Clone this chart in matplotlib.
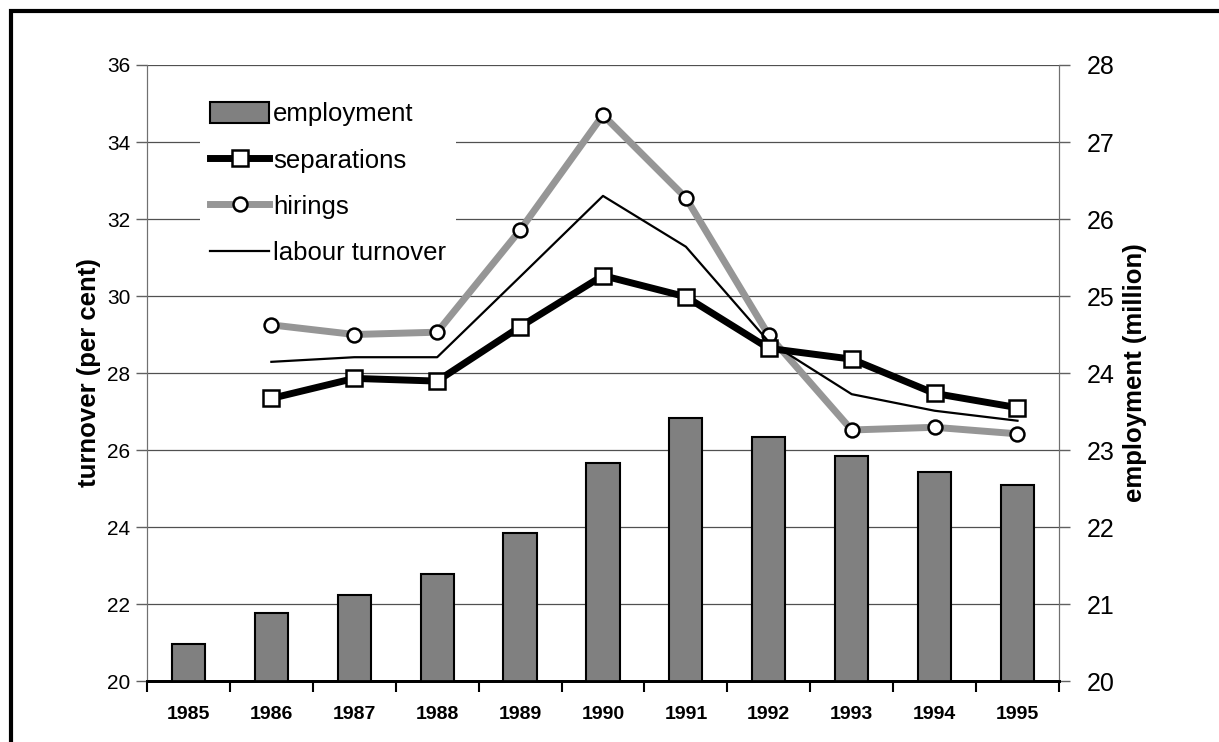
import numpy as np
import matplotlib
matplotlib.use("Agg")
import matplotlib.pyplot as plt
from matplotlib.patches import Patch, Rectangle
from matplotlib.lines import Line2D

plt.rcParams['font.family'] = ['Liberation Sans', 'DejaVu Sans']

# data
years = ['1985', '1986', '1987', '1988', '1989', '1990',
         '1991', '1992', '1993', '1994', '1995']
employment = [20.48, 20.88, 21.12, 21.39, 21.92, 22.83,
              23.42, 23.17, 22.92, 22.71, 22.55]
sep_years = years[1:]
separations = [27.34, 27.86, 27.79, 29.20, 30.53, 29.98, 28.64, 28.36, 27.47, 27.10]
hirings = [29.25, 29.00, 29.06, 31.71, 34.70, 32.55, 28.98, 26.52, 26.59, 26.42]
turnover = [28.29, 28.41, 28.41, 30.50, 32.60, 31.28, 28.81, 27.45, 27.02, 26.76]

fig = plt.figure(figsize=(12.19, 7.42), dpi=100)
ax = fig.add_axes([0.1206, 0.0822, 0.7481, 0.8302])
ax2 = ax.twinx()

# bars on the right axis, kept underneath the lines
ax2.set_zorder(ax.get_zorder() - 1)
ax.patch.set_visible(False)

x = np.arange(len(years))
xs = np.arange(1, len(years))

ax2.bar(x, employment, width=0.4, color='#808080', edgecolor='black',
        linewidth=1.5, zorder=3)
ax2.set_ylim(20, 28)
ax2.set_yticks(np.arange(20, 29, 1))
ax2.yaxis.grid(True, color='#505050', linewidth=0.9, zorder=0)
ax2.set_axisbelow(True)

ax.plot(xs, hirings, color='#969696', linewidth=5, marker='o', markersize=10,
        markerfacecolor='white', markeredgecolor='black', markeredgewidth=1.8,
        solid_joinstyle='miter', zorder=4)
ax.plot(xs, turnover, color='black', linewidth=1.6, zorder=5)
ax.plot(xs, separations, color='black', linewidth=5, marker='s', markersize=11,
        markerfacecolor='white', markeredgecolor='black', markeredgewidth=1.8,
        solid_joinstyle='miter', zorder=6)

ax.set_xlim(-0.5, len(years) - 0.5)
ax.set_ylim(20, 36)
ax.set_yticks(np.arange(20, 37, 2))

# category boundaries as ticks, labels centred
ax.set_xticks(np.arange(-0.5, len(years), 1))
ax.set_xticklabels([])
ax.set_xticks(x, minor=True)
ax.set_xticklabels(years, minor=True, fontsize=14, fontweight='bold')
ax.tick_params(axis='x', which='major', direction='out', length=8, width=1.5,
               color='black')
ax.tick_params(axis='x', which='minor', length=0, pad=18)

ax.tick_params(axis='y', direction='out', length=8, width=1, color='#606060',
               labelsize=15, pad=4)
ax2.tick_params(axis='y', direction='out', length=8, width=1, color='#606060',
                labelsize=18, pad=12)

for a in (ax, ax2):
    a.spines['top'].set_visible(False)
    a.spines['left'].set_color('#707070')
    a.spines['right'].set_color('#707070')
    a.spines['bottom'].set_color('black')
    a.spines['bottom'].set_linewidth(2)

ax.set_ylabel('turnover (per cent)', fontsize=18.5, fontweight='bold', labelpad=4)
ax2.set_ylabel('employment (million)', fontsize=18.5, fontweight='bold', labelpad=6)

handles = [
    Patch(facecolor='#808080', edgecolor='black', linewidth=1.5),
    Line2D([], [], color='black', linewidth=5, marker='s', markersize=11,
           markerfacecolor='white', markeredgecolor='black', markeredgewidth=1.8),
    Line2D([], [], color='#969696', linewidth=5, marker='o', markersize=10,
           markerfacecolor='white', markeredgecolor='black', markeredgewidth=1.8),
    Line2D([], [], color='black', linewidth=1.6),
]
labels = ['employment', 'separations', 'hirings', 'labour turnover']
leg = ax.legend(handles, labels, loc='upper left', bbox_to_anchor=(0.044, 0.978),
                fontsize=18.5, frameon=True, facecolor='white', edgecolor='none',
                framealpha=1, fancybox=False, handlelength=2.3, handleheight=0.9,
                handletextpad=0.15, labelspacing=0.85, borderpad=0.4)
leg.set_zorder(10)

# outer frame of the original picture
fig.patches.append(Rectangle((10.5 / 1219, -0.5), 2.0, 1.5 - 10.5 / 742,
                             transform=fig.transFigure, fill=False,
                             edgecolor='black', linewidth=3))

fig.savefig('out.png', dpi=100)
